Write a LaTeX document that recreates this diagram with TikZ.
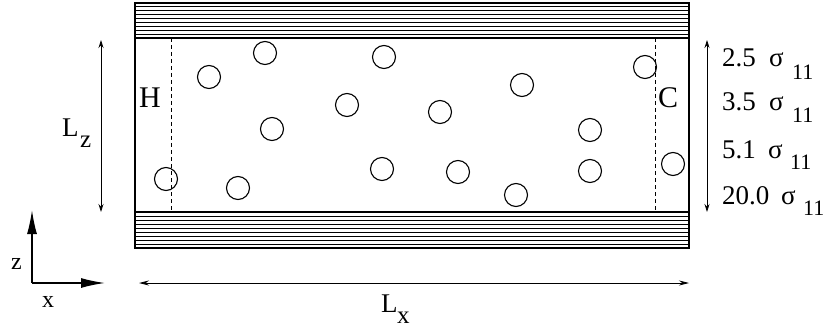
\documentclass[tikz,border=0pt]{standalone}
\usepackage{fontspec}
\setmainfont{Liberation Serif}
\newfontfamily\tnr{Liberation Serif}
\usetikzlibrary{arrows.meta}
\begin{document}
\begin{tikzpicture}[x=1pt,y=-1pt,
  wallbox/.style={draw=black,line width=1.3pt},
  wallline/.style={draw=black,line width=0.9pt},
  cellbox/.style={draw=black,line width=1.7pt},
  interface/.style={draw=black,line width=0.9pt,dash pattern=on 4pt off 3pt},
  particle/.style={circle,draw=black,line width=1.1pt,minimum size=23pt,inner sep=0pt},
  dimarrow/.style={draw=black,line width=0.8pt,{Stealth[length=8pt,width=5pt]}-{Stealth[length=8pt,width=5pt]}},
  axisarrow/.style={draw=black,line width=1.5pt,-{Latex[length=24pt,width=10pt]}},
  lbl/.style={inner sep=0pt,anchor=base west}]
\useasboundingbox (0,0) rectangle (826,331);
% walls
\draw[wallbox] (135,3) rectangle (689,38);
\foreach \i in {1,...,8} \draw[wallline] (135,{3+\i*35/9}) -- (689,{3+\i*35/9});
\draw[wallbox] (135,212) rectangle (689,248);
\foreach \i in {1,...,8} \draw[wallline] (135,{212+\i*4}) -- (689,{212+\i*4});
% cell
\draw[cellbox] (135,38) rectangle (689,212);
\draw[interface] (171,38) -- (171,212);
\draw[interface] (655,38) -- (655,212);
% particles
\node[particle] (p1) at (265,53) {};
\node[particle] (p2) at (209,77) {};
\node[particle] (p3) at (384,57) {};
\node[particle] (p4) at (272,129) {};
\node[particle] (p5) at (347,105) {};
\node[particle] (p6) at (440,112) {};
\node[particle] (p7) at (522,85) {};
\node[particle] (p8) at (645,67) {};
\node[particle] (p9) at (590,130) {};
\node[particle] (p10) at (166,179) {};
\node[particle] (p11) at (238,188) {};
\node[particle] (p12) at (382,169) {};
\node[particle] (p13) at (458,172) {};
\node[particle] (p14) at (516,195) {};
\node[particle] (p15) at (590,171) {};
\node[particle] (p16) at (673,164) {};
% H and C
\node[lbl,font=\tnr\fontsize{30}{30}\selectfont] (H) at (139,108) {H};
\node[lbl,font=\tnr\fontsize{30}{30}\selectfont] (C) at (658,108) {C};
% Lz
\coordinate (lzt) at (101,40);
\coordinate (lzb) at (101,212);
\draw[dimarrow] (lzt) -- (lzb);
\node[lbl,font=\tnr\fontsize{27}{27}\selectfont] (Lz) at (62,137) {L};
\node[lbl,font=\tnr\fontsize{25}{25}\selectfont] (Lzs) at (80,148) {z};
% right arrow
\coordinate (rt) at (707,40);
\coordinate (rb) at (707,212);
\draw[dimarrow] (rt) -- (rb);
\foreach \n/\yb/\ys/\xs/\xi in {2.5/67/80/769/792, 3.5/111/123/769/792, 5.1/158/169/768/790, 20.0/204/215/781/803}{
  \node[lbl,font=\tnr\fontsize{27}{27}\selectfont] at (722,\yb) {\n};
  \node[lbl,font=\tnr\fontsize{27}{27}\selectfont] at (\xs,\yb) {σ};
  \node[lbl,font=\tnr\fontsize{22}{22}\selectfont] at (\xi,\ys) {11};
}
% Lx
\coordinate (lxl) at (139,283);
\coordinate (lxr) at (689,283);
\draw[draw=black,line width=0.9pt,{Stealth[length=10pt,width=5pt]}-{Stealth[length=10pt,width=5pt]}] (lxl) -- (lxr);
\node[lbl,font=\tnr\fontsize{27}{27}\selectfont] (Lx) at (381,312) {L};
\node[lbl,font=\tnr\fontsize{25}{25}\selectfont] (Lxs) at (397,323) {x};
% axes
\coordinate (o) at (32,283);
\coordinate (zt) at (32,210);
\coordinate (xr) at (105,283);
\draw[axisarrow] (o) -- (zt);
\draw[axisarrow] (o) -- (xr);
\node[lbl,font=\tnr\fontsize{24}{24}\selectfont] (zl) at (11,269) {z};
\node[lbl,font=\tnr\fontsize{24}{24}\selectfont] (xl) at (42,307) {x};
\end{tikzpicture}
\end{document}
